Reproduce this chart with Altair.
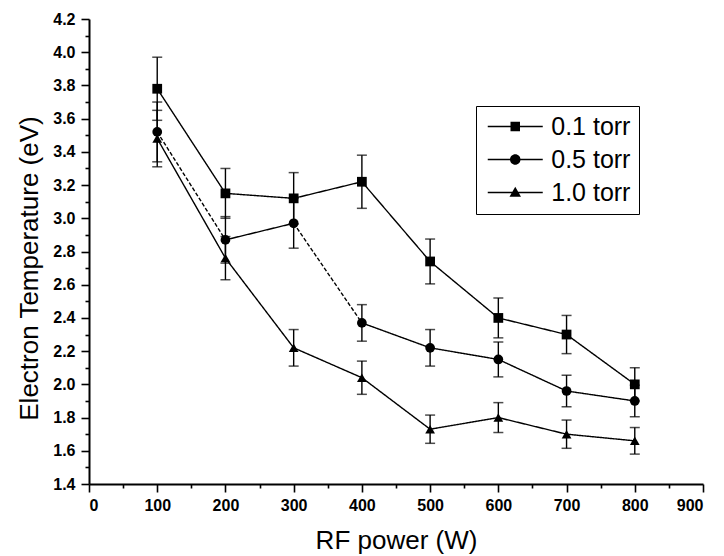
import altair as alt
import pandas as pd

# RF power settings (W)
power = [100, 200, 300, 400, 500, 600, 700, 800]

# Gas pressures
series = ["0.1 torr", "0.5 torr", "1.0 torr"]

# Electron temperature (eV) and its uncertainty for each pressure
te_01 = [3.78, 3.15, 3.12, 3.22, 2.74, 2.40, 2.30, 2.00]
err_01 = [0.19, 0.15, 0.155, 0.16, 0.135, 0.12, 0.115, 0.10]

te_05 = [3.52, 2.87, 2.97, 2.37, 2.22, 2.15, 1.96, 1.90]
err_05 = [0.18, 0.14, 0.15, 0.11, 0.11, 0.105, 0.095, 0.095]

te_10 = [3.48, 2.76, 2.22, 2.04, 1.73, 1.80, 1.70, 1.66]
err_10 = [0.17, 0.13, 0.11, 0.10, 0.085, 0.09, 0.085, 0.08]

# Segments (series, starting power) drawn with a dashed stroke
dashed_segments = [("0.5 torr", 100), ("0.5 torr", 300)]

# Axis tick positions (major ones are labelled)
x_ticks = list(range(0, 901, 50))
y_ticks = [round(1.4 + 0.1 * i, 1) for i in range(29)]

FONT = "Liberation Sans"

# Legend glyphs (filled outlines): a thin bar with the series marker in its middle
LINE = "M-5.5,-0.14H5.5V0.14H-5.5Z"
legend_paths = [
    LINE + "M-0.95,-0.95H0.95V0.95H-0.95Z",
    LINE + "M1.05,0A1.05,1.05,0,1,1,-1.05,0A1.05,1.05,0,1,1,1.05,0Z",
    LINE + "M0,-1.15L1.15,0.85H-1.15Z",
]

rows = []
for name, te, err in zip(series, [te_01, te_05, te_10], [err_01, err_05, err_10]):
    for p, t, e in zip(power, te, err):
        rows.append({
            "power": p,
            "te": t,
            "lo": round(t - e, 4),
            "hi": round(t + e, 4),
            "series": name,
            "seg_style": "dashed" if (name, p) in dashed_segments else "solid",
        })
df = pd.DataFrame(rows)

x_scale = alt.Scale(domain=[0, 900], nice=False, zero=False)
y_scale = alt.Scale(domain=[1.4, 4.2], nice=False, zero=False)

x_axis = alt.Axis(
    title="RF power (W)",
    values=x_ticks,
    labelExpr="datum.value % 100 == 0 ? datum.value : ''",
    labelOverlap=False,
    tickSize={"condition": {"test": "datum.value % 100 != 0", "value": 4}, "value": 8},
    labelPadding=5,
    titleY=64,
    titleBaseline="alphabetic",
)
y_axis = alt.Axis(
    title="Electron Temperature (eV)",
    values=y_ticks,
    labelExpr="(round(datum.value * 10) % 2) == 0 ? format(datum.value, '.1f') : ''",
    labelOverlap=False,
    labelBound=False,
    tickSize={"condition": {"test": "(round(datum.value * 10) % 2) == 1", "value": 4}, "value": 8},
    labelPadding=6,
    titlePadding=10,
    titleY=249,
)

X = alt.X("power:Q", scale=x_scale, axis=x_axis)


def y_enc(field):
    return alt.Y(field, type="quantitative", scale=y_scale, axis=y_axis)


base = alt.Chart(df)

# Connecting segments between consecutive powers
segments = base.transform_window(
    next_power="lead(power)",
    next_te="lead(te)",
    groupby=["series"],
    sort=[alt.SortField("power", order="ascending")],
).transform_filter(
    "datum.next_power != null"
).mark_rule(strokeWidth=1.4, color="black").encode(
    x=X,
    y=y_enc("te"),
    x2="next_power:Q",
    y2="next_te:Q",
    strokeDash=alt.StrokeDash(
        "seg_style:N",
        scale=alt.Scale(domain=["solid", "dashed"], range=[[1, 0], [4, 2]]),
        legend=None,
    ),
)

# Vertical error bars with caps
bars = base.mark_rule(strokeWidth=1.4, color="black").encode(
    x=X,
    y=y_enc("lo"),
    y2="hi:Q",
)
caps_hi = base.mark_tick(orient="horizontal", size=10, thickness=1.5, color="black").encode(
    x=X, y=y_enc("hi")
)
caps_lo = base.mark_tick(orient="horizontal", size=10, thickness=1.5, color="black").encode(
    x=X, y=y_enc("lo")
)

# Markers
points = base.mark_point(filled=True, opacity=1, color="black", size=95).encode(
    x=X,
    y=y_enc("te"),
    shape=alt.Shape(
        "series:N",
        scale=alt.Scale(domain=series, range=["square", "circle", "triangle-up"]),
        legend=None,
    ),
)

# Legend carrier: no marks drawn, only its legend (line + marker glyphs)
legend_layer = base.transform_filter("false").transform_calculate(
    pressure="datum.series"
).mark_point(filled=True, color="black", opacity=1).encode(
    x=X,
    y=y_enc("te"),
    shape=alt.Shape(
        "pressure:N",
        scale=alt.Scale(domain=series, range=legend_paths),
        legend=alt.Legend(
            title=None,
            orient="none",
            legendX=387,
            legendY=87,
            symbolSize=100,
            symbolFillColor="black",
            symbolOpacity=1,
            symbolOffset=18.75,
            labelFontSize=25,
            labelFont=FONT,
            labelColor="black",
            labelOffset=23.5,
            labelLimit=300,
            rowPadding=7,
            padding=8,
            strokeColor="black",
        ),
    ),
)

chart = alt.layer(segments, bars, caps_hi, caps_lo, points, legend_layer).resolve_scale(
    shape="independent"
).properties(
    width=614,
    height=465,
    autosize=alt.AutoSizeParams(type="none"),
    padding={"left": 89, "top": 19, "right": 21, "bottom": 72},
    background="white",
).configure_view(
    stroke=None
).configure_axis(
    grid=False,
    domainColor="black",
    domainWidth=2,
    tickColor="black",
    tickWidth=1.6,
    labelFont=FONT,
    labelFontSize=16,
    labelFontWeight="bold",
    labelColor="black",
    titleFont=FONT,
    titleFontSize=26,
    titleFontWeight="normal",
    titleColor="black",
)

chart.save("out.html", embed_options={"renderer": "svg", "actions": False})
